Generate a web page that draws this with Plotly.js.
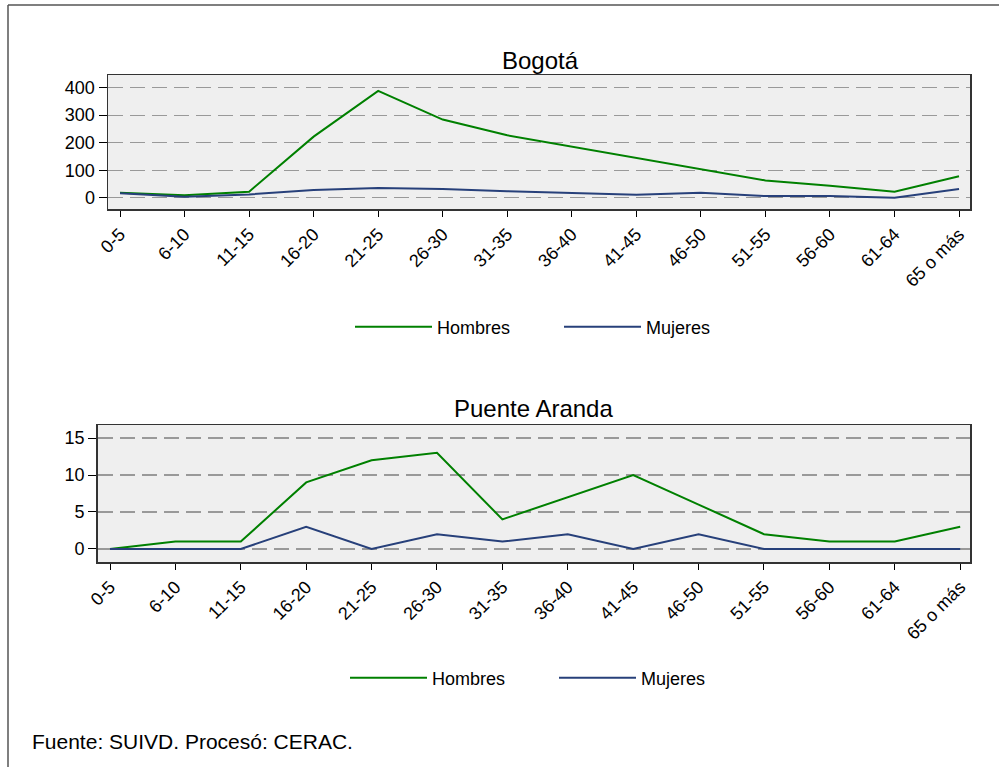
<!DOCTYPE html>
<html>
<head>
<meta charset="utf-8">
<script src="https://cdn.plot.ly/plotly-3.0.1.min.js"></script>
<style>html,body{margin:0;padding:0;background:#fff;}#chart{width:999px;height:767px;}</style>
</head>
<body>
<div id="chart"></div>
<script>
const categories = ["0-5","6-10","11-15","16-20","21-25","26-30","31-35","36-40","41-45","46-50","51-55","56-60","61-64","65 o más"];
const bogotaHombres = [18, 9, 22, 222, 388, 284, 227, 186, 147, 105, 63, 44, 22, 78];
const bogotaMujeres = [16, 4, 12, 28, 35, 32, 24, 17, 11, 18, 6, 6, 0, 32];
const puenteHombres = [0, 1, 1, 9, 12, 13, 4, 7, 10, 6, 2, 1, 1, 3];
const puenteMujeres = [0, 0, 0, 3, 0, 2, 1, 2, 0, 2, 0, 0, 0, 0];
const seriesNames = ["Hombres", "Mujeres"];
const green = "#008000", navy = "#27407a";
const font = "Liberation Sans, Arial, sans-serif";

const idx = categories.map((_, i) => i);
const traces = [
  {x: idx, y: bogotaHombres, name: seriesNames[0], mode: "lines", line: {color: green, width: 2}, xaxis: "x", yaxis: "y", legend: "legend"},
  {x: idx, y: bogotaMujeres, name: seriesNames[1], mode: "lines", line: {color: navy, width: 2}, xaxis: "x", yaxis: "y", legend: "legend"},
  {x: idx, y: puenteHombres, name: seriesNames[0], mode: "lines", line: {color: green, width: 2}, xaxis: "x2", yaxis: "y2", legend: "legend2"},
  {x: idx, y: puenteMujeres, name: seriesNames[1], mode: "lines", line: {color: navy, width: 2}, xaxis: "x2", yaxis: "y2", legend: "legend2"}
];

const xCommon = {
  tickmode: "array", tickvals: idx, ticktext: categories, tickangle: -45,
  ticks: "outside", ticklen: 6, tickcolor: "#000", showgrid: false, zeroline: false,
  showline: true, linecolor: "#333", linewidth: 1.5, mirror: true,
  tickfont: {family: font, size: 18, color: "#000"}
};
const yCommon = {
  ticks: "outside", ticklen: 8, tickcolor: "#000", showgrid: true, gridcolor: "#999", griddash: "15px,7px", gridwidth: 1.2,
  zeroline: false, showline: true, linecolor: "#333", linewidth: 1.5, mirror: true,
  tickfont: {family: font, size: 18, color: "#000"}
};
const legCommon = {orientation: "h", xanchor: "left", yanchor: "middle", itemwidth: 77, font: {family: font, size: 18, color: "#000"}, bgcolor: "rgba(0,0,0,0)", entrywidth: 117};

const layout = {
  width: 999, height: 767, margin: {l: 0, r: 0, t: 0, b: 0},
  paper_bgcolor: "#fff", plot_bgcolor: "#efefef",
  font: {family: font, size: 18, color: "#000"},
  xaxis: Object.assign({}, xCommon, {domain: [108/999, 970/999], range: [-0.186, 13.17], anchor: "y"}),
  yaxis: Object.assign({}, yCommon, {domain: [(767-209.3)/767, (767-75)/767], range: [-42, 446], tickvals: [0,100,200,300,400], anchor: "x"}),
  xaxis2: Object.assign({}, xCommon, {domain: [97.7/999, 970/999], range: [-0.188, 13.15], anchor: "y2"}),
  yaxis2: Object.assign({}, yCommon, {domain: [(767-562)/767, (767-425)/767], range: [-1.76, 16.76], tickvals: [0,5,10,15], anchor: "x2"}),
  legend: Object.assign({}, legCommon, {x: 350/999, y: (767-327)/767}),
  legend2: Object.assign({}, legCommon, {x: 345/999, y: (767-678)/767}),
  annotations: [
    {text: "Bogotá", xref: "paper", yref: "paper", x: 540/999, y: (767-60)/767, xanchor: "center", yanchor: "middle", showarrow: false, font: {family: font, size: 24, color: "#000"}},
    {text: "Puente Aranda", xref: "paper", yref: "paper", x: 533/999, y: (767-408)/767, xanchor: "center", yanchor: "middle", showarrow: false, font: {family: font, size: 24, color: "#000"}},
    {text: "Fuente: SUIVD. Procesó: CERAC.", xref: "paper", yref: "paper", x: 30/999, y: (767-741)/767, xanchor: "left", yanchor: "middle", showarrow: false, font: {family: font, size: 21, color: "#000"}}
  ],
  shapes: [
    {type: "line", xref: "paper", yref: "paper", x0: 8/999, x1: 8/999, y0: 0, y1: (767-5)/767, line: {color: "#555", width: 1.5}},
    {type: "line", xref: "paper", yref: "paper", x0: 8/999, x1: 1, y0: (767-5)/767, y1: (767-5)/767, line: {color: "#555", width: 1.5}}
  ],
  showlegend: true
};

Plotly.newPlot("chart", traces, layout, {displayModeBar: false, staticPlot: true});
</script>
</body>
</html>
